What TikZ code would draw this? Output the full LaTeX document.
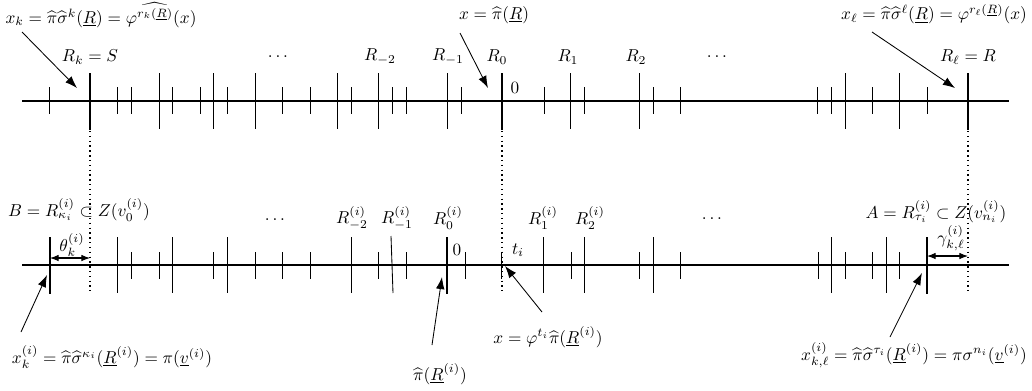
\documentclass[tikz,border=0pt]{standalone}
\usetikzlibrary{arrows.meta}
\begin{document}
\begin{tikzpicture}[x=0.58pt,y=-0.58pt,
 axis/.style={line width=0.8pt},
 tk/.style={line width=0.5pt},
 thk/.style={line width=1.3pt},
 dotline/.style={dotted, line width=0.8pt},
 ptr/.style={line width=0.5pt,-{Latex[length=7pt,width=5pt]}},
 dimarrow/.style={line width=0.6pt,{Latex[length=5pt,width=3.8pt]}-{Latex[length=5pt,width=3.8pt]}},
 lbl/.style={inner sep=0pt}]
\useasboundingbox (0,0) rectangle (1032,390);
% ---------- top axis ----------
\draw[axis] (22,101) -- (1009,101);
\foreach \x in {49,117,131,172,200,227,282,310,351,392,406,461,544,584,653,680,817,831,872,927}
  \draw[tk] (\x,87) -- (\x,114);
\foreach \x in {159,213,255,337,378,447,570,639,845,899}
  \draw[tk] (\x,73) -- (\x,129);
\foreach \x in {90,502,968}
  \draw[thk] (\x,73) -- (\x,130);
% ---------- bottom axis ----------
\draw[axis] (22,265) -- (1009,265);
\foreach \x in {131,159,213,255,282,310,378,406,465,501,571,639,680,818,845,872,899}
  \draw[tk] (\x,252) -- (\x,279);
\foreach \x in {117,172,227,351,543,584,653,831,886}
  \draw[tk] (\x,237) -- (\x,293);
\draw[tk] (391,236) -- (393,293);
\foreach \x in {50,447,927}
  \draw[thk] (\x,237) -- (\x,294);
% ---------- dotted verticals ----------
\foreach \x in {90,502,968}
  \draw[dotline] (\x,131) -- (\x,291);
% ---------- top labels ----------
\node[lbl] (xk) at (101,15) {$x_k=\widehat{\pi}\widehat{\sigma}^k(\underline{R})=\varphi^{\widehat{r_k(\underline{R})}}(x)$};
\node[lbl] (x0) at (494,15) {$x=\widehat{\pi}(\underline{R})$};
\node[lbl] (xl) at (934,14) {$x_\ell=\widehat{\pi}\widehat{\sigma}^\ell(\underline{R})=\varphi^{r_\ell(\underline{R})}(x)$};
\node[lbl] (Rk) at (90,57) {$R_k=S$};
\node[lbl] (d1) at (278,57) {$\dots$};
\node[lbl] (Rm2) at (380,57) {$R_{-2}$};
\node[lbl] (Rm1) at (448,57) {$R_{-1}$};
\node[lbl] (R0) at (497,57) {$R_0$};
\node[lbl] (z0) at (515,88) {$0$};
\node[lbl] (R1) at (568,57) {$R_1$};
\node[lbl] (R2) at (636,57) {$R_2$};
\node[lbl] (d2) at (717,57) {$\dots$};
\node[lbl] (Rl) at (968,57) {$R_\ell=R$};
\coordinate (sk) at (22,32);  \coordinate (tk) at (77,88);
\coordinate (s0) at (460,33); \coordinate (t0) at (488,88);
\coordinate (sl) at (872,32); \coordinate (tl) at (955,88);
\draw[ptr] (sk) -- (tk);
\draw[ptr] (s0) -- (t0);
\draw[ptr] (sl) -- (tl);
% ---------- bottom labels ----------
\node[lbl] (B) at (79,210) {$B=R^{(i)}_{\kappa_i}\subset Z(v^{(i)}_0)$};
\node[lbl] (d3) at (275,220) {$\dots$};
\node[lbl] (th) at (72,245) {$\theta^{(i)}_k$};
\node[lbl] (Sm2) at (352,218) {$R^{(i)}_{-2}$};
\node[lbl] (Sm1) at (397,218) {$R^{(i)}_{-1}$};
\node[lbl] (S0) at (448,218) {$R^{(i)}_{0}$};
\node[lbl] (z1) at (457,250) {$0$};
\node[lbl] (ti) at (518,250) {$t_i$};
\node[lbl] (S1) at (543,218) {$R^{(i)}_{1}$};
\node[lbl] (S2) at (590,218) {$R^{(i)}_{2}$};
\node[lbl] (d4) at (712,219) {$\dots$};
\node[lbl] (A) at (936,212) {$A=R^{(i)}_{\tau_i}\subset Z(v^{(i)}_{n_i})$};
\node[lbl] (ga) at (951,238) {$\gamma^{(i)}_{k,\ell}$};
\coordinate (thL) at (50,258); \coordinate (thR) at (90,258);
\coordinate (gaL) at (927,256); \coordinate (gaR) at (968,256);
\draw[dimarrow] (thL) -- (thR);
\draw[dimarrow] (gaL) -- (gaR);
\node[lbl] (bk) at (112,357) {$x^{(i)}_k=\widehat{\pi}\widehat{\sigma}^{\kappa_i}(\underline{R}^{(i)})=\pi(\underline{v}^{(i)})$};
\node[lbl] (bt) at (548,337) {$x=\varphi^{t_i}\widehat{\pi}(\underline{R}^{(i)})$};
\node[lbl] (b0) at (440,374) {$\widehat{\pi}(\underline{R}^{(i)})$};
\node[lbl] (bl) at (914,355) {$x^{(i)}_{k,\ell}=\widehat{\pi}\widehat{\sigma}^{\tau_i}(\underline{R}^{(i)})=\pi\sigma^{n_i}(\underline{v}^{(i)})$};
\coordinate (ub) at (21,332);  \coordinate (vb) at (47,275);
\coordinate (u0) at (432,345); \coordinate (v0) at (442,277);
\coordinate (ut) at (542,312); \coordinate (vt) at (505,266);
\coordinate (ul) at (890,337); \coordinate (vl) at (922,273);
\draw[ptr] (ub) -- (vb);
\draw[ptr] (u0) -- (v0);
\draw[ptr] (ut) -- (vt);
\draw[ptr] (ul) -- (vl);
\end{tikzpicture}
\end{document}
